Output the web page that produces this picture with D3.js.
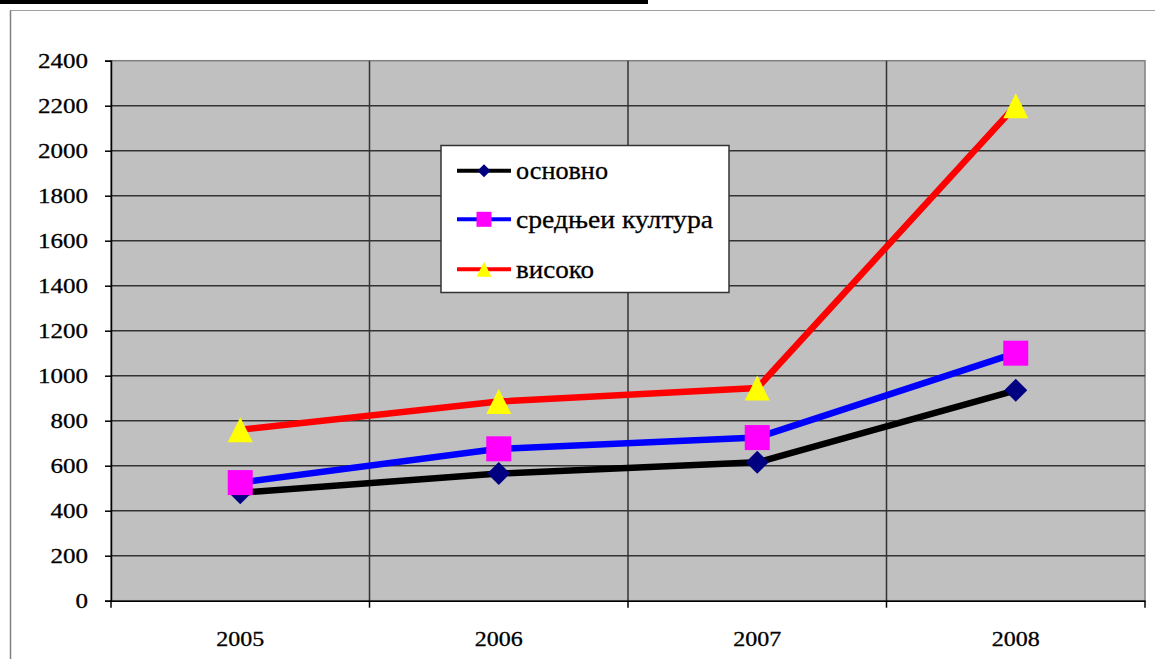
<!DOCTYPE html>
<html><head><meta charset="utf-8">
<script src="https://cdn.jsdelivr.net/npm/d3@7"></script>
<style>html,body{margin:0;padding:0;background:#fff;overflow:hidden}</style>
</head><body>
<svg id="c" width="1155" height="659"></svg>
<script>
const categories = ["2005", "2006", "2007", "2008"];
const osnovno = [480, 565, 615, 935];
const srednje = [525, 675, 725, 1100];
const visoko = [760, 885, 945, 2200];
const yTicks = [0, 200, 400, 600, 800, 1000, 1200, 1400, 1600, 1800, 2000, 2200, 2400];
const seriesNames = ["основно", "средњеи култура", "високо"];

const series = [
  {name: seriesNames[0], values: osnovno, line: "#000000", fill: "#000080", shape: "diamond"},
  {name: seriesNames[1], values: srednje, line: "#0000ff", fill: "#ff00ff", shape: "square"},
  {name: seriesNames[2], values: visoko, line: "#ff0000", fill: "#ffff00", shape: "triangle"}
];

const svg = d3.select("#c");
const L = 111, R = 1145, T = 60.7, B = 600.7;
const x = d3.scaleBand().domain(categories).range([L, R]);
const y = d3.scaleLinear().domain([0, 2400]).range([B, T]);
const font = "'Liberation Serif','Times New Roman',serif";

// frame decorations
svg.append("rect").attr("x", 0).attr("y", 0).attr("width", 648).attr("height", 4).attr("fill", "#000");
svg.append("line").attr("x1", 10).attr("x2", 1155).attr("y1", 10.5).attr("y2", 10.5).attr("stroke", "#a0a0a0").attr("stroke-width", 1);
svg.append("line").attr("x1", 10.5).attr("x2", 10.5).attr("y1", 10.5).attr("y2", 659).attr("stroke", "#808080").attr("stroke-width", 1.5);

// plot background
svg.append("rect").attr("x", L).attr("y", T).attr("width", R - L).attr("height", B - T).attr("fill", "#c0c0c0")
  .attr("stroke", "#808080").attr("stroke-width", 1.5);

// horizontal gridlines
svg.append("g").selectAll("line").data(yTicks.slice(1, -1)).join("line")
  .attr("x1", L).attr("x2", R).attr("y1", d => y(d)).attr("y2", d => y(d))
  .attr("stroke", "#333").attr("stroke-width", 1.5);
// vertical gridlines
svg.append("g").selectAll("line").data(categories.slice(1)).join("line")
  .attr("x1", d => x(d)).attr("x2", d => x(d)).attr("y1", T).attr("y2", B)
  .attr("stroke", "#333").attr("stroke-width", 1.5);

// y axis
const yAxis = svg.append("g").attr("transform", `translate(${L},0)`)
  .call(d3.axisLeft(y).tickValues(yTicks).tickFormat(d3.format("d")).tickSize(6).tickPadding(17));
yAxis.select(".domain").attr("stroke", "#000").attr("stroke-width", 1.5);
yAxis.selectAll(".tick line").attr("stroke", "#000").attr("stroke-width", 1.5);
yAxis.selectAll(".tick text").attr("font-family", font).attr("font-size", 21).attr("fill", "#000")
  .attr("stroke", "#000").attr("stroke-width", 0.3)
  .attr("textLength", function(d){ return String(d).length * 12.5; }).attr("lengthAdjust", "spacingAndGlyphs");

// x axis
const xAxis = svg.append("g").attr("transform", `translate(0,${B})`)
  .call(d3.axisBottom(x).tickSize(0).tickPadding(30));
xAxis.select(".domain").attr("stroke", "#000").attr("stroke-width", 1.5);
xAxis.selectAll(".tick text").attr("font-family", font).attr("font-size", 21).attr("fill", "#000")
  .attr("stroke", "#000").attr("stroke-width", 0.3)
  .attr("textLength", 48).attr("lengthAdjust", "spacingAndGlyphs");
// category boundary ticks
const bounds = categories.map(c => x(c)).concat([R]);
xAxis.append("g").selectAll("line").data(bounds).join("line")
  .attr("x1", d => d).attr("x2", d => d).attr("y1", 0).attr("y2", 7)
  .attr("stroke", "#000").attr("stroke-width", 1.5);

function marker(g, shape, cx, cy, fill, s) {
  if (shape === "diamond") {
    const h = s / 2;
    g.append("path").attr("d", `M${cx},${cy - h}L${cx + h},${cy}L${cx},${cy + h}L${cx - h},${cy}Z`).attr("fill", fill);
  } else if (shape === "square") {
    g.append("rect").attr("x", cx - s / 2).attr("y", cy - s / 2).attr("width", s).attr("height", s).attr("fill", fill);
  } else {
    const h = s;
    g.append("path").attr("d", `M${cx},${cy - h / 2}L${cx + s / 2},${cy + h / 2}L${cx - s / 2},${cy + h / 2}Z`).attr("fill", fill);
  }
}
const sizes = {diamond: 23, square: 25, triangle: 25};
const line = d3.line().x((d, i) => x(categories[i]) + x.bandwidth() / 2).y(d => y(d));

series.forEach(s => {
  const g = svg.append("g");
  g.append("path").attr("d", line(s.values)).attr("fill", "none").attr("stroke", s.line)
    .attr("stroke-width", 6.5).attr("stroke-linejoin", "round");
  s.values.forEach((v, i) => marker(g, s.shape, x(categories[i]) + x.bandwidth() / 2, y(v), s.fill, sizes[s.shape]));
});

// legend
const lg = svg.append("g");
lg.append("rect").attr("x", 441).attr("y", 145.5).attr("width", 288).attr("height", 147)
  .attr("fill", "#fff").attr("stroke", "#333").attr("stroke-width", 1.5);
const rowY = [170.7, 219.3, 269.3];
const legLen = [92, 197, 78];
const legSizes = {diamond: 13, square: 15, triangle: 15};
series.forEach((s, i) => {
  lg.append("line").attr("x1", 457).attr("x2", 511).attr("y1", rowY[i]).attr("y2", rowY[i])
    .attr("stroke", s.line).attr("stroke-width", 4);
  marker(lg, s.shape, 484, rowY[i], s.fill, legSizes[s.shape]);
  lg.append("text").attr("x", 516).attr("y", rowY[i]).attr("dy", "0.32em")
    .attr("font-family", font).attr("font-size", 26).attr("fill", "#000")
    .attr("stroke", "#000").attr("stroke-width", 0.3)
    .attr("textLength", legLen[i]).attr("lengthAdjust", "spacingAndGlyphs").text(s.name);
});
</script>
</body></html>
